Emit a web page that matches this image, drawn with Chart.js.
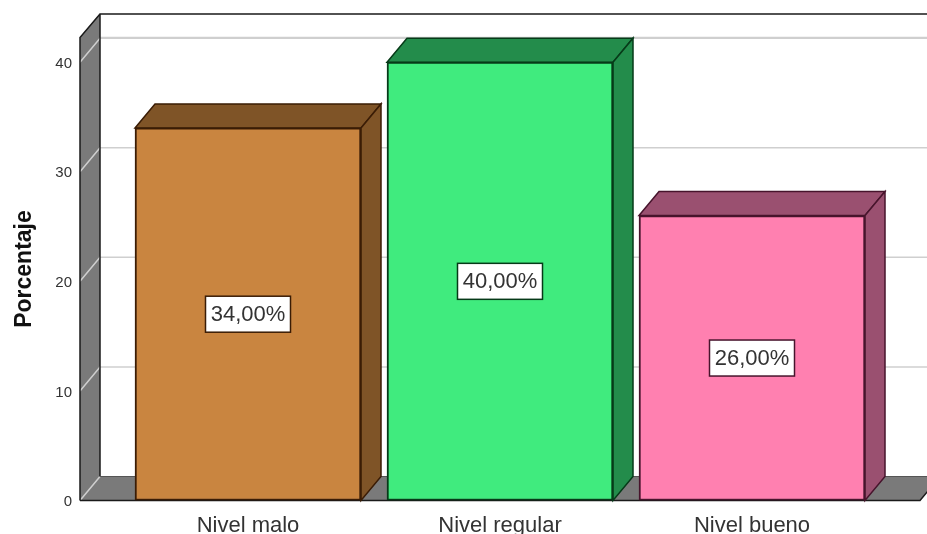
<!DOCTYPE html>
<html>
<head>
<meta charset="utf-8">
<title>Porcentaje por nivel</title>
<script src="https://cdn.jsdelivr.net/npm/chart.js@4"></script>
<style>
  html, body { margin: 0; padding: 0; background: #fff; overflow: hidden; }
  #wrap { width: 927px; height: 534px; }
</style>
</head>
<body>
<div id="wrap"><canvas id="chart" width="927" height="534"></canvas></div>
<script>
const categories = ['Nivel malo', 'Nivel regular', 'Nivel bueno'];
const values = [34, 40, 26];
const valueLabels = ['34,00%', '40,00%', '26,00%'];
const yTicks = [0, 10, 20, 30, 40];
const frontColors = ['#C98540', '#40EB7E', '#FF80B0'];
const sideColors = ['#7F5427', '#238C4B', '#9A5070'];
const edgeColors = ['#3A1C05', '#063A18', '#47142C'];

// profundidad del efecto 3D
const depthX = 20;
const depthY = -24;
const fontName = '"Liberation Sans", Arial, sans-serif';

function poly(ctx, pts, fill, stroke) {
    ctx.beginPath();
    pts.forEach((p, i) => i ? ctx.lineTo(p[0], p[1]) : ctx.moveTo(p[0], p[1]));
    ctx.closePath();
    if (fill) { ctx.fillStyle = fill; ctx.fill(); }
    if (stroke) { ctx.strokeStyle = stroke; ctx.lineWidth = 1.5; ctx.stroke(); }
}

const wallsPlugin = {
    id: 'walls',
    beforeDatasetsDraw(chart) {
        const { ctx, chartArea: a, scales: { y } } = chart;
        ctx.save();
        // pared izquierda y piso
        poly(ctx, [[a.left, a.top], [a.left + depthX, a.top + depthY], [a.left + depthX, a.bottom + depthY], [a.left, a.bottom]], '#7A7A7A');
        poly(ctx, [[a.left, a.bottom], [a.left + depthX, a.bottom + depthY], [a.right + depthX, a.bottom + depthY], [a.right, a.bottom]], '#7A7A7A');

        // lineas de cuadricula
        ctx.lineWidth = 1.5;
        ctx.strokeStyle = '#CFCFCF';
        yTicks.forEach(t => {
            const py = y.getPixelForValue(t);
            ctx.beginPath();
            ctx.moveTo(a.left, py);
            ctx.lineTo(a.left + depthX, py + depthY);
            if (t > 0) ctx.lineTo(a.right + depthX, py + depthY);
            ctx.stroke();
        });
        ctx.beginPath();
        ctx.moveTo(a.left + depthX, a.top);
        ctx.lineTo(a.right + depthX, a.top);
        ctx.stroke();

        // marco
        const backTop = a.top + depthY + 0.5;
        ctx.strokeStyle = '#1A1A1A';
        ctx.lineWidth = 1.5;
        ctx.beginPath();
        ctx.moveTo(a.left, a.bottom);
        ctx.lineTo(a.left, a.top);
        ctx.lineTo(a.left + depthX, backTop);
        ctx.lineTo(a.right + depthX, backTop);
        ctx.moveTo(a.left + depthX, backTop);
        ctx.lineTo(a.left + depthX, a.bottom + depthY);
        ctx.moveTo(a.left, a.bottom);
        ctx.lineTo(a.right, a.bottom);
        ctx.lineTo(a.right + depthX, a.bottom + depthY);
        ctx.stroke();
        ctx.strokeStyle = '#555';
        ctx.lineWidth = 1;
        ctx.beginPath();
        ctx.moveTo(a.left + depthX, a.bottom + depthY);
        ctx.lineTo(a.right + depthX, a.bottom + depthY);
        ctx.stroke();

        // caras laterales y superiores de las barras
        chart.getDatasetMeta(0).data.forEach((bar, i) => {
            const l = bar.x - bar.width / 2;
            const r = bar.x + bar.width / 2;
            poly(ctx, [[l, bar.y], [l + depthX, bar.y + depthY], [r + depthX, bar.y + depthY], [r, bar.y]], sideColors[i], edgeColors[i]);
            poly(ctx, [[r, bar.y], [r + depthX, bar.y + depthY], [r + depthX, bar.base + depthY], [r, bar.base]], sideColors[i], edgeColors[i]);
        });
        ctx.restore();
    },
    afterDatasetsDraw(chart) {
        const { ctx } = chart;
        ctx.save();
        chart.getDatasetMeta(0).data.forEach((bar, i) => {
            const cy = (bar.y + bar.base) / 2;
            const w = 85, h = 36;
            ctx.fillStyle = '#fff';
            ctx.strokeStyle = edgeColors[i];
            ctx.lineWidth = 1.5;
            ctx.fillRect(bar.x - w / 2, cy - h / 2, w, h);
            ctx.strokeRect(bar.x - w / 2, cy - h / 2, w, h);
            ctx.fillStyle = '#333';
            ctx.font = '22px ' + fontName;
            ctx.textAlign = 'center';
            ctx.textBaseline = 'middle';
            ctx.fillText(valueLabels[i], bar.x, cy + 1);
        });
        ctx.restore();
    }
};

new Chart(document.getElementById('chart'), {
    type: 'bar',
    data: {
        datasets: [{
            data: values.map((v, i) => ({ x: i, y: v })),
            backgroundColor: frontColors,
            borderColor: edgeColors,
            borderWidth: 2,
            borderSkipped: false,
            barThickness: 226
        }]
    },
    plugins: [wallsPlugin],
    options: {
        responsive: false,
        animation: false,
        events: [],
        layout: { padding: { top: 37.5, right: 7, left: 0, bottom: 0 } },
        plugins: { legend: { display: false }, tooltip: { enabled: false } },
        scales: {
            x: {
                type: 'linear',
                offset: false,
                min: -2 / 3,
                max: 2 + 2 / 3,
                grid: { display: false, drawTicks: false, offset: false },
                border: { display: false },
                afterBuildTicks(scale) { scale.ticks = categories.map((c, i) => ({ value: i })); },
                afterFit(scale) { scale.height = 33.5; },
                ticks: {
                    autoSkip: false,
                    maxRotation: 0,
                    padding: 12,
                    color: '#333',
                    font: { family: fontName, size: 22 },
                    callback: v => categories[v]
                }
            },
            y: {
                min: 0,
                max: 42.25,
                grid: { display: false, drawTicks: false },
                border: { display: false },
                afterBuildTicks(scale) { scale.ticks = yTicks.map(v => ({ value: v })); },
                afterFit(scale) { scale.width = 80; },
                title: {
                    display: true,
                    text: 'Porcentaje',
                    color: '#111',
                    font: { family: fontName, size: 23, weight: 'bold' },
                    padding: { top: 11, bottom: 0 }
                },
                ticks: {
                    padding: 8,
                    labelOffset: 1.5,
                    color: '#333',
                    font: { family: fontName, size: 15 }
                }
            }
        }
    }
});
</script>
</body>
</html>
